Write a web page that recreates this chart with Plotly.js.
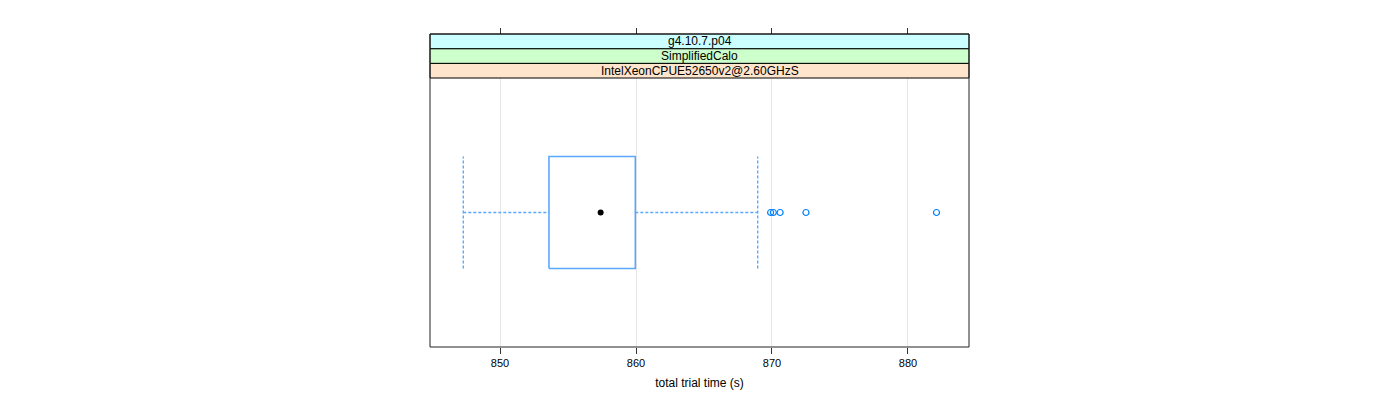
<!DOCTYPE html>
<html>
<head>
<meta charset="utf-8">
<script src="https://cdn.plot.ly/plotly-3.0.1.min.js"></script>
<style>html,body{margin:0;padding:0;background:#fff;}#chart{width:1400px;height:400px;}</style>
</head>
<body>
<div id="chart"></div>
<script>
// ---- data ----
const stripLabels = ["IntelXeonCPUE52650v2@2.60GHzS", "SimplifiedCalo", "g4.10.7.p04"];
const stripColors = ["#ffe5cc", "#ccffcc", "#ccffff"];
const boxQ1 = 853.6;
const boxMedian = 857.4;
const boxQ3 = 859.95;
const whiskerLow = 847.3;
const whiskerHigh = 868.95;
const outliers = [869.9, 870.1, 870.6, 872.5, 882.1];
const xTicks = [850, 860, 870, 880];
const xTitle = "total trial time (s)";

// ---- layout constants ----
const blue = "#0080ff";
const boxBlue = "#5aa8ff";
const yc = 1;       // category position
const hh = 0.208;   // half box height (axis units)
const xRange = [844.85, 884.49];
const plotFrac = 269 / 313;   // panel area fraction below strips
const stripH = (1 - plotFrac) / 3;
const dash = "3px,2px";

const traces = [
  { // box rectangle
    x: [boxQ1, boxQ3, boxQ3, boxQ1, boxQ1],
    y: [yc - hh, yc - hh, yc + hh, yc + hh, yc - hh],
    mode: "lines", line: { color: boxBlue, width: 1.6 }, hoverinfo: "skip"
  },
  { // lower whisker
    x: [whiskerLow, boxQ1], y: [yc, yc],
    mode: "lines", line: { color: boxBlue, width: 1.4, dash: dash }, hoverinfo: "skip"
  },
  { // upper whisker
    x: [boxQ3, whiskerHigh], y: [yc, yc],
    mode: "lines", line: { color: boxBlue, width: 1.4, dash: dash }, hoverinfo: "skip"
  },
  { // lower cap
    x: [whiskerLow, whiskerLow], y: [yc - hh, yc + hh],
    mode: "lines", line: { color: boxBlue, width: 1.4, dash: dash }, hoverinfo: "skip"
  },
  { // upper cap
    x: [whiskerHigh, whiskerHigh], y: [yc - hh, yc + hh],
    mode: "lines", line: { color: boxBlue, width: 1.4, dash: dash }, hoverinfo: "skip"
  },
  { // median dot
    x: [boxMedian], y: [yc], mode: "markers",
    marker: { color: "#000", size: 6, symbol: "circle" }, hoverinfo: "skip"
  },
  { // outliers
    x: outliers, y: outliers.map(() => yc), mode: "markers",
    marker: { symbol: "circle-open", color: blue, size: 6, line: { width: 1.2, color: "#3d98ff" } }, hoverinfo: "skip"
  },
  { // invisible trace for top axis
    x: xRange, y: [yc, yc], xaxis: "x2", mode: "markers",
    marker: { opacity: 0 }, hoverinfo: "skip"
  }
];

const shapes = [];
const annotations = [];
stripLabels.forEach((lab, i) => {
  const y0 = plotFrac + i * stripH;
  shapes.push({
    type: "rect", xref: "paper", yref: "paper", x0: 0, x1: 1, y0: y0, y1: y0 + stripH,
    fillcolor: stripColors[i], line: { color: "#000", width: 1 }, layer: "above"
  });
  annotations.push({
    xref: "paper", yref: "paper", x: 0.5, y: y0 + stripH / 2, text: lab, showarrow: false,
    font: { size: 12, color: "#000" }, xanchor: "center", yanchor: "middle"
  });
});
shapes.push({
  type: "rect", xref: "paper", yref: "paper", x0: 0, x1: 1, y0: 0, y1: 1,
  line: { color: "#222", width: 1 }, layer: "above"
});

const layout = {
  width: 1400, height: 400,
  margin: { l: 430, r: 431, t: 34, b: 53 },
  paper_bgcolor: "#fff", plot_bgcolor: "#fff",
  showlegend: false,
  font: { family: "Liberation Sans, Arial, sans-serif", size: 12, color: "#000" },
  xaxis: {
    range: xRange, tickvals: xTicks, ticktext: xTicks.map(String),
    ticks: "outside", ticklen: 6, tickcolor: "#333", tickwidth: 1,
    showgrid: true, gridcolor: "#e6e6e6", gridwidth: 1,
    zeroline: false, showline: false, anchor: "y",
    tickfont: { size: 11, color: "#000" },
    title: { text: xTitle, font: { size: 12, color: "#000" }, standoff: 10 }
  },
  xaxis2: {
    range: xRange, tickvals: xTicks, overlaying: "x", side: "top", anchor: "free", position: 1,
    ticks: "outside", ticklen: 6, tickcolor: "#333", tickwidth: 1,
    showticklabels: false, showgrid: false, zeroline: false, showline: false
  },
  yaxis: {
    range: [0.5, 1.5], domain: [0, plotFrac],
    showticklabels: false, ticks: "", showgrid: false, zeroline: false, showline: false
  },
  shapes: shapes,
  annotations: annotations
};

Plotly.newPlot("chart", traces, layout, { displayModeBar: false, staticPlot: true });
</script>
</body>
</html>
